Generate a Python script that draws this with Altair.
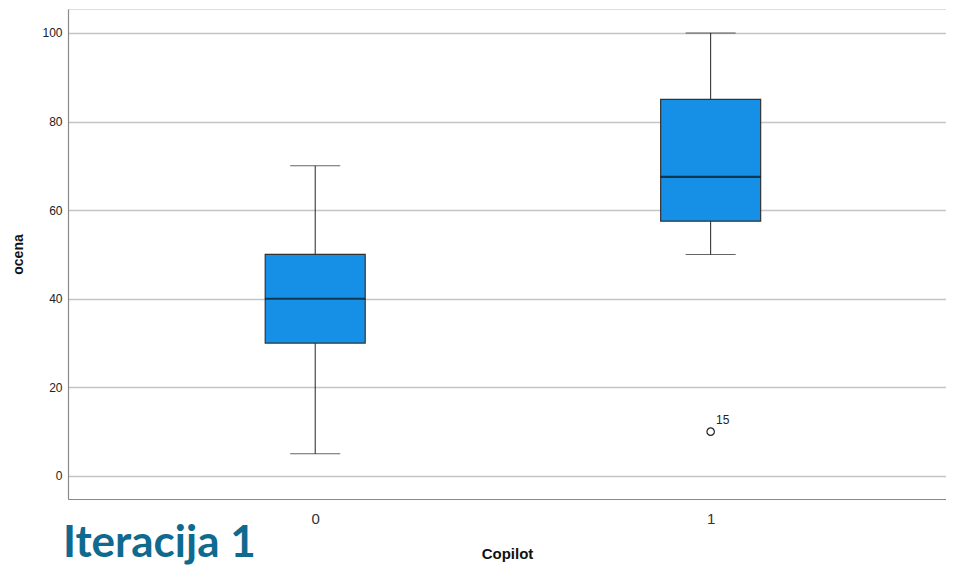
import altair as alt
import pandas as pd

# ---- data ----
groups = [0, 1]
q1 = [30, 57.5]
median = [40, 67.5]
q3 = [50, 85]
whisker_low = [5, 50]
whisker_high = [70, 100]
outlier_group = [1]
outlier_value = [10]
outlier_label = ["15"]
y_ticks = [0, 20, 40, 60, 80, 100]
x_ticks = [0, 1]

box_df = pd.DataFrame(dict(group=groups, q1=q1, median=median, q3=q3,
                           lo=whisker_low, hi=whisker_high))
out_df = pd.DataFrame(dict(group=outlier_group, value=outlier_value,
                           label=outlier_label))

FONT = "Liberation Sans"
xscale = alt.Scale(domain=[-0.6125, 1.5825], nice=False, zero=False)
yscale = alt.Scale(domain=[-5.2, 105.4], nice=False, zero=False)

x_axis = alt.Axis(values=x_ticks, title="Copilot", grid=False, ticks=False,
                  domainColor="#8a8a8a", domainWidth=1.2, format="d",
                  labelFont=FONT, labelFontSize=15, labelColor="#333333",
                  labelPadding=12, titleFont=FONT, titleFontSize=15,
                  titleFontWeight="bold", titleColor="#111111", titlePadding=20)
y_axis = alt.Axis(values=y_ticks, title="ocena", grid=True, gridColor="#c4c4c4",
                  gridWidth=1.3, ticks=False, domainColor="#8a8a8a", domainWidth=1.2,
                  labelFont=FONT, labelFontSize=12, labelColor="#222222",
                  labelPadding=6, titleFont=FONT, titleFontSize=14,
                  titleFontWeight="bold", titleColor="#111111", titlePadding=16)


def xe(field):
    return alt.X(f"{field}:Q", scale=xscale, axis=x_axis)


def ye(field):
    return alt.Y(f"{field}:Q", scale=yscale, axis=y_axis)


base = alt.Chart(box_df)

whisker = base.mark_rule(color="#222222", strokeWidth=1).encode(
    x=xe("group"), y=ye("lo"), y2="hi")
cap_lo = base.mark_tick(orient="horizontal", size=50, thickness=1, color="#222222").encode(
    x=xe("group"), y=ye("lo"))
cap_hi = base.mark_tick(orient="horizontal", size=50, thickness=1, color="#222222").encode(
    x=xe("group"), y=ye("hi"))
box = base.mark_bar(size=100, fill="#168fe6", stroke="#333333", strokeWidth=1.2,
                    opacity=1).encode(x=xe("group"), y=ye("q1"), y2="q3")
med = base.mark_tick(orient="horizontal", size=100, thickness=2.2, color="#111111").encode(
    x=xe("group"), y=ye("median"))

out_pts = alt.Chart(out_df).mark_point(shape="circle", filled=False, size=55,
                                       color="#222222", strokeWidth=1.2, opacity=1).encode(
    x=xe("group"), y=ye("value"))
out_txt = alt.Chart(out_df).mark_text(dx=12, dy=-12, font=FONT, fontSize=12,
                                      color="#222222").encode(
    x=xe("group"), y=ye("value"), text="label:N")

chart = alt.layer(whisker, cap_lo, cap_hi, box, med, out_pts, out_txt).properties(
    width=878, height=490,
    autosize=alt.AutoSizeParams(type="none"),
    padding={"left": 60, "top": 1, "right": 0, "bottom": 68},
    title=alt.TitleParams("Iteracija 1", orient="bottom", anchor="start",
                          frame="group", font="Lato", fontSize=44,
                          fontWeight="bold", color="#0f6a8f", dx=-5,
                          offset=-39),
).configure_view(stroke=None).configure(background="white")

chart.save("out.html", embed_options={"renderer": "svg", "actions": False})
